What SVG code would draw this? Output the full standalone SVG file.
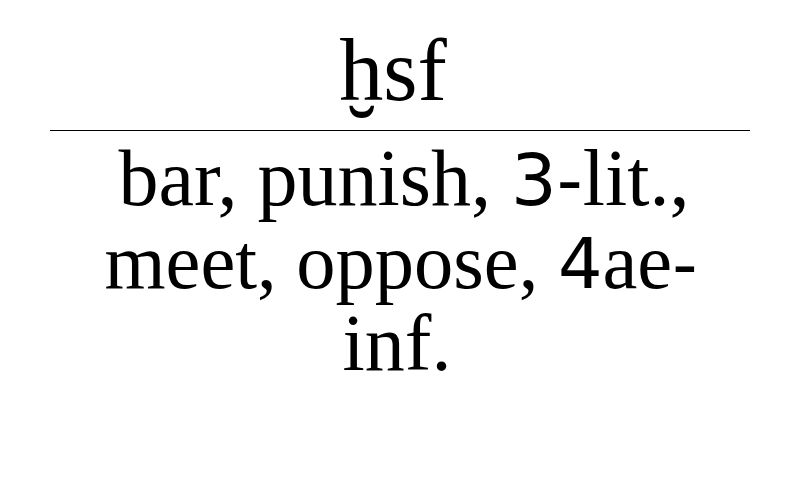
<svg xmlns="http://www.w3.org/2000/svg" width="800" height="500" viewBox="0 0 800 500">
<style>
.t{font-family:"Liberation Serif","DejaVu Serif",serif;fill:#000;text-anchor:middle}
.d{font-family:"DejaVu Sans","Liberation Sans",sans-serif}
</style>
<rect width="800" height="500" fill="#fff"/>
<g id="title">
<text class="t" x="393" y="100" font-size="88">ḫsf</text>
</g>
<g id="divider">
<line x1="50" y1="130.5" x2="750" y2="130.5" stroke="#000" stroke-width="1"/>
</g>
<g id="meaning">
<text class="t" font-size="80"><tspan x="404" y="205">bar, punish, <tspan class="d" font-size="72">3-</tspan>lit.,</tspan><tspan x="401" y="288" font-size="78.5">meet, oppose, <tspan class="d" font-size="70">4</tspan>ae<tspan class="d" font-size="70">-</tspan></tspan><tspan x="397" y="370">inf.</tspan></text>
</g>
</svg>
